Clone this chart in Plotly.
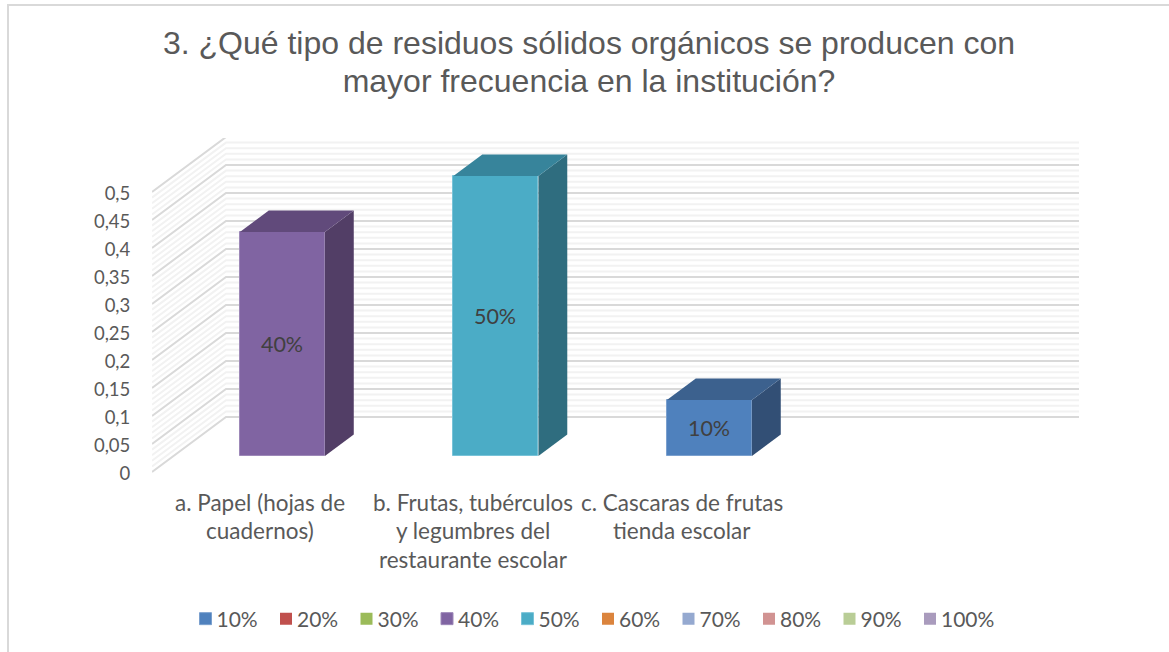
import plotly.graph_objects as go

# ---- data ----
categories = ["a. Papel (hojas de<br>cuadernos)",
              "b. Frutas, tubérculos<br>y legumbres del<br>restaurante escolar",
              "c. Cascaras de frutas<br>tienda escolar"]
values = [0.4, 0.5, 0.1]
value_labels = ["40%", "50%", "10%"]
series_names = ["10%", "20%", "30%", "40%", "50%", "60%", "70%", "80%", "90%", "100%"]
series_colors = ["#4F81BD", "#C0504D", "#9BBB59", "#8064A2", "#4BACC6",
                 "#DB843D", "#95A9D0", "#D19392", "#B9CD96", "#A99BBD"]
tick_values = [0, 0.05, 0.1, 0.15, 0.2, 0.25, 0.3, 0.35, 0.4, 0.45, 0.5]
tick_labels = ["0", "0,05", "0,1", "0,15", "0,2", "0,25", "0,3", "0,35", "0,4", "0,45", "0,5"]
minor_values = [i / 100 for i in range(51) if i % 5]
title_lines = ["3. ¿Qué tipo de residuos sólidos orgánicos se producen con",
               "mayor frecuencia en la institución?"]
bar_series = [3, 4, 0]
top_colors = ["#614A7B", "#37849B", "#3C618E"]
side_colors = ["#523E66", "#2F6D7F", "#324F75"]
edge_colors = ["#9D88B8", "#78C3D8", "#7BA0CE"]

# ---- layout constants ----
W, H = 1169, 652
L, R, T, B = 152, 1079, 138, 473
CAT_PX = 213.5
Y_PX = 560.0
DX = 74 / CAT_PX   # oblique depth, data units
DY = 55 / Y_PX
D0, D1 = 0.29, 0.68
BAR_W = 85 / CAT_PX
BAR_SHIFT = 2.2 / CAT_PX
x_range = [-0.5, -0.5 + (R - L) / CAT_PX]
y_range = [(472 - B) / Y_PX, (472 - T) / Y_PX]
label_shift = [1, 1, -4]


def proj(x, v, d):
    return x + d * DX, v + d * DY


def grid_shape(v, color):
    a, b, c = proj(-0.5, v, 0), proj(-0.5, v, 1), proj(3.5, v, 1)
    return dict(type="path", xref="x", yref="y", layer="below",
                path=f"M {a[0]},{a[1]} L {b[0]},{b[1]} L {c[0]},{c[1]}",
                line=dict(color=color, width=2))


fig = go.Figure()

# side and top faces
for i, v in enumerate(values):
    xl, xr = i + BAR_SHIFT - BAR_W / 2, i + BAR_SHIFT + BAR_W / 2
    pts = [proj(xr, 0, D0), proj(xr, 0, D1), proj(xr, v, D1), proj(xr, v, D0), proj(xr, 0, D0)]
    fig.add_trace(go.Scatter(x=[p[0] for p in pts], y=[p[1] for p in pts], mode="lines",
                             fill="toself", fillcolor=side_colors[i], line=dict(width=0),
                             showlegend=False, hoverinfo="skip"))
    pts = [proj(xl, v, D0), proj(xl, v, D1), proj(xr, v, D1), proj(xr, v, D0), proj(xl, v, D0)]
    fig.add_trace(go.Scatter(x=[p[0] for p in pts], y=[p[1] for p in pts], mode="lines",
                             fill="toself", fillcolor=top_colors[i], line=dict(width=0),
                             showlegend=False, hoverinfo="skip"))

# front faces + legend
for s, name in enumerate(series_names):
    if s in bar_series:
        i = bar_series.index(s)
        px, _ = proj(i + BAR_SHIFT, 0, D0)
        fig.add_trace(go.Bar(x=[px], y=[values[i]], base=[D0 * DY], width=BAR_W, name=name,
                             marker=dict(color=series_colors[s], line=dict(width=1, color=edge_colors[i])),
                             text=[value_labels[i]], textposition="inside", insidetextanchor="middle",
                             textangle=0, constraintext="none",
                             textfont=dict(family="Lato", size=21.5, color="#404040")))
    else:
        fig.add_trace(go.Bar(x=[None], y=[None], name=name,
                             marker=dict(color=series_colors[s], line=dict(width=0))))

# category labels, one annotation per line
for i, c in enumerate(categories):
    for j, line in enumerate(c.split("<br>")):
        fig.add_annotation(x=i, xref="x", y=0, yref="y", yshift=-30 - 28.5 * j, xshift=label_shift[i],
                           text=line, showarrow=False,
                           font=dict(family="Lato", size=22.5, color="#595959"))

title = "<br>".join(f"<span style='font-size:32px'>{t}</span>" for t in title_lines)
border = dict(type="path", xref="paper", yref="paper", layer="below",
              path="M {x0},{y1} L {x0},{y0} L {x2},{y0}".format(
                  x0=(8 - L) / (R - L), y0=(B - 5) / (B - T), y1=(B - 652) / (B - T), x2=(1169 - L) / (R - L)),
              line=dict(color="#D9D9D9", width=2))

fig.update_layout(
    width=W, height=H, margin=dict(l=L, r=W - R, t=T, b=H - B),
    paper_bgcolor="white", plot_bgcolor="rgba(0,0,0,0)", barmode="overlay", bargap=0,
    title=dict(text=title, x=589 / W, xanchor="center", y=1 - 54 / H, yanchor="top",
               font=dict(family="Liberation Sans", size=29.2, color="#595959")),
    xaxis=dict(range=x_range, visible=False, fixedrange=True),
    yaxis=dict(range=y_range, tickmode="array", tickvals=tick_values, ticktext=tick_labels,
               ticks="outside", ticklen=17, tickcolor="rgba(0,0,0,0)", showgrid=False,
               zeroline=False, showline=False, fixedrange=True, ticklabelshift=2,
               tickfont=dict(family="Lato", size=18.5, color="#595959")),
    legend=dict(orientation="h", x=596 / W, xanchor="center", xref="container", y=1 - 619 / H, yanchor="middle",
                yref="container", entrywidth=43.5, entrywidthmode="pixels", traceorder="normal",
                indentation=-8,
                font=dict(family="Lato", size=21, color="#595959"), bgcolor="rgba(0,0,0,0)"),
    showlegend=True,
    shapes=[border] + [grid_shape(v, "#F2F2F2") for v in minor_values]
           + [grid_shape(v, "#D9D9D9") for v in tick_values],
)
fig.write_html(
    "out.html",
    config={"displayModeBar": False},
    post_script="document.body.style.margin='0';"
                "document.querySelectorAll('.legendtext').forEach(function(t){"
                "t.setAttribute('x', parseFloat(t.getAttribute('x')) - 9);});",
)
